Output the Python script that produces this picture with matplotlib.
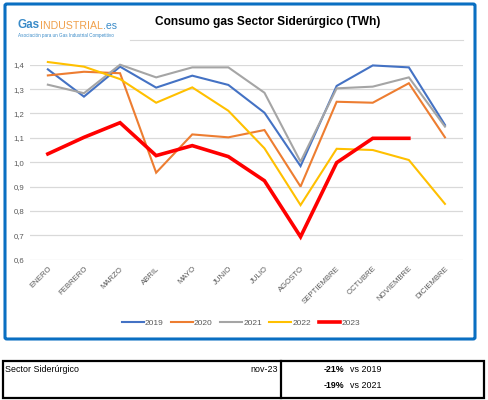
import matplotlib
matplotlib.use('Agg')
import matplotlib.pyplot as plt
from matplotlib.patches import Rectangle, FancyBboxPatch
from matplotlib.lines import Line2D

plt.rcParams['font.family'] = ['Liberation Sans', 'DejaVu Sans']

# datos (TWh)
meses = ['ENERO', 'FEBRERO', 'MARZO', 'ABRIL', 'MAYO', 'JUNIO', 'JULIO', 'AGOSTO',
         'SEPTIEMBRE', 'OCTUBRE', 'NOVIEMBRE', 'DICIEMBRE']
v2019 = [1.381, 1.269, 1.392, 1.306, 1.355, 1.317, 1.203, 0.984, 1.313, 1.397, 1.389, 1.153]
v2020 = [1.356, 1.371, 1.365, 0.957, 1.114, 1.102, 1.132, 0.900, 1.248, 1.244, 1.324, 1.102]
v2021 = [1.318, 1.283, 1.400, 1.348, 1.389, 1.389, 1.285, 1.002, 1.303, 1.310, 1.348, 1.146]
v2022 = [1.411, 1.392, 1.341, 1.244, 1.307, 1.211, 1.057, 0.824, 1.055, 1.050, 1.009, 0.829]
v2023 = [1.034, 1.102, 1.162, 1.027, 1.068, 1.023, 0.924, 0.694, 0.998, 1.098, 1.098]
anios = ['2019', '2020', '2021', '2022', '2023']
yticks = [0.6, 0.7, 0.8, 0.9, 1.0, 1.1, 1.2, 1.3, 1.4]

W, H = 488, 400


def fx(px):
    return px / W


def fy(py):
    return 1 - py / H


fig = plt.figure(figsize=(4.88, 4.00), dpi=100)

# marco azul del grafico
fig.patches.append(FancyBboxPatch((fx(5), fy(339)), fx(470), 335 / H,
                                  boxstyle='round,pad=0,rounding_size=0.004',
                                  transform=fig.transFigure, fill=False,
                                  edgecolor='#0a6fc2', linewidth=2.2))

ax = fig.add_axes([fx(29.8), fy(259.7), fx(463) - fx(29.8), (259.7 - 64.7) / H])
x = list(range(len(meses)))
series = [v2019, v2020, v2021, v2022, v2023]
colores = ['#4472c4', '#ed7d31', '#a5a5a5', '#ffc000', '#ff0000']
anchos = [1.5, 1.5, 1.5, 1.5, 2.6]
for vals, c, lw, lab in zip(series, colores, anchos, anios):
    ax.plot(x[:len(vals)], vals, color=c, lw=lw, label=lab, clip_on=False,
            solid_joinstyle='miter', zorder=3)

ax.set_xlim(-0.5, len(meses) - 0.5)
ax.set_ylim(0.6, 1.4)
ax.set_yticks(yticks)
ax.set_yticklabels([f'{v:.1f}'.replace('.', ',') for v in yticks])
ax.set_xticks(x)
ax.set_xticklabels(meses, rotation=45, ha='right', rotation_mode='anchor')
ax.grid(axis='y', color='#d9d9d9', lw=0.9)
ax.set_axisbelow(True)
for s in ax.spines.values():
    s.set_visible(False)
ax.tick_params(axis='both', length=0, labelsize=5.6, colors='#595959', pad=4)

handles = [Line2D([], [], color=c, lw=lw) for c, lw in zip(colores, anchos)]
fig.legend(handles, anios, loc='center', bbox_to_anchor=(fx(241), fy(323)), ncol=5,
           frameon=False, fontsize=6, handlelength=2.6, handletextpad=0.15,
           columnspacing=0.9, labelcolor='#595959')

# titulo y logo
fig.text(fx(268), fy(22), 'Consumo gas Sector Siderúrgico (TWh)', ha='center', va='center',
         fontsize=8.6, fontweight='bold', color='black')
fig.add_artist(Line2D([fx(130), fx(463)], [fy(40), fy(40)], color='#d9d9d9', lw=0.8))
t1 = fig.text(fx(18), fy(28), 'Gas', ha='left', va='baseline', fontsize=8.4,
              fontweight='bold', color='#3a8bc8')
t2 = fig.add_artist(matplotlib.text.Annotation('INDUSTRIAL', xy=(1, 0), xycoords=t1,
                                               va='bottom', ha='left', fontsize=7.6,
                                               color='#f0a04b'))
fig.add_artist(matplotlib.text.Annotation('.es', xy=(1, 0), xycoords=t2,
                                          va='bottom', ha='left', fontsize=7.6,
                                          color='#3a8bc8'))
fig.text(fx(18), fy(35.5), 'Asociación para un Gas Industrial Competitivo', ha='left',
         va='center', fontsize=3.3, color='#3a8bc8')

# tabla inferior
fig.patches.append(Rectangle((fx(3), fy(398)), fx(481), 37 / H, transform=fig.transFigure,
                             fill=False, edgecolor='black', linewidth=1.6))
fig.add_artist(Line2D([fx(281), fx(281)], [fy(361), fy(398)], color='black', lw=1.6))
fig.text(fx(5), fy(370), 'Sector Siderúrgico', ha='left', va='center', fontsize=6.4)
fig.text(fx(278), fy(370), 'nov-23', ha='right', va='center', fontsize=6.4)
fig.text(fx(324), fy(370), '-21%', ha='left', va='center', fontsize=6.4, fontweight='bold')
fig.text(fx(350), fy(370), 'vs 2019', ha='left', va='center', fontsize=6.4)
fig.text(fx(324), fy(385), '-19%', ha='left', va='center', fontsize=6.4, fontweight='bold')
fig.text(fx(350), fy(385), 'vs 2021', ha='left', va='center', fontsize=6.4)

fig.savefig('out.png', dpi=100)
